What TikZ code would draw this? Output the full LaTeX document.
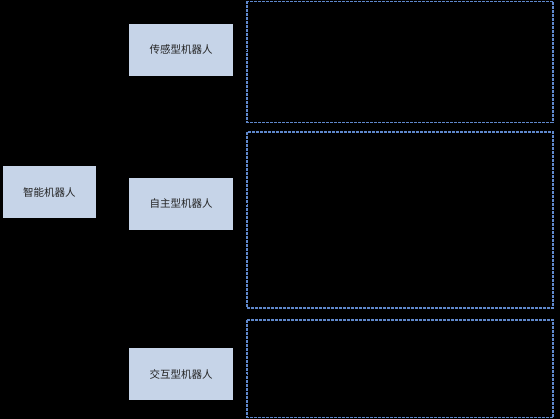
\documentclass[tikz,border=0pt]{standalone}
\usepackage{fontspec}
\newfontfamily\cjk{Noto Sans CJK SC}
\usetikzlibrary{positioning}
\definecolor{boxfill}{HTML}{C6D4E8}
\definecolor{dashblue}{HTML}{5F88CC}
\definecolor{txt}{HTML}{222222}
\tikzset{
  robot/.style={fill=boxfill, draw=none, minimum width=104pt, minimum height=52pt, inner sep=0pt, font=\cjk\fontsize{10.5}{12}\selectfont, text=txt},
  rootbox/.style={robot, minimum width=93pt},
  group/.style={draw=dashblue, dash pattern=on 3pt off 1pt, line width=1.3pt},
  link/.style={draw=black, line width=0.8pt}
}
\begin{document}
\begin{tikzpicture}[x=1pt,y=-1pt]
\fill[black] (0,0) rectangle (560,419);
\useasboundingbox (0,0) rectangle (560,419);
\node[rootbox] (root) at (49.5,192) {智能机器人};
\node[robot] (a) at (181,50) {传感型机器人};
\node[robot] (b) at (181,204) {自主型机器人};
\node[robot] (c) at (181,374) {交互型机器人};
\draw[group] (247,1.5) rectangle (553,122.5);
\draw[group] (247,132) rectangle (553,308);
\draw[group] (247,320) rectangle (553,417.5);
\coordinate (ga) at (247,50);
\coordinate (gb) at (247,204);
\coordinate (gc) at (247,374);
\coordinate (mid) at (113,192);
\draw[link] (root.east) -- (mid) |- (a.west);
\draw[link] (mid) |- (b.west);
\draw[link] (mid) |- (c.west);
\draw[link] (a.east) -- (ga);
\draw[link] (b.east) -- (gb);
\draw[link] (c.east) -- (gc);
\end{tikzpicture}
\end{document}
